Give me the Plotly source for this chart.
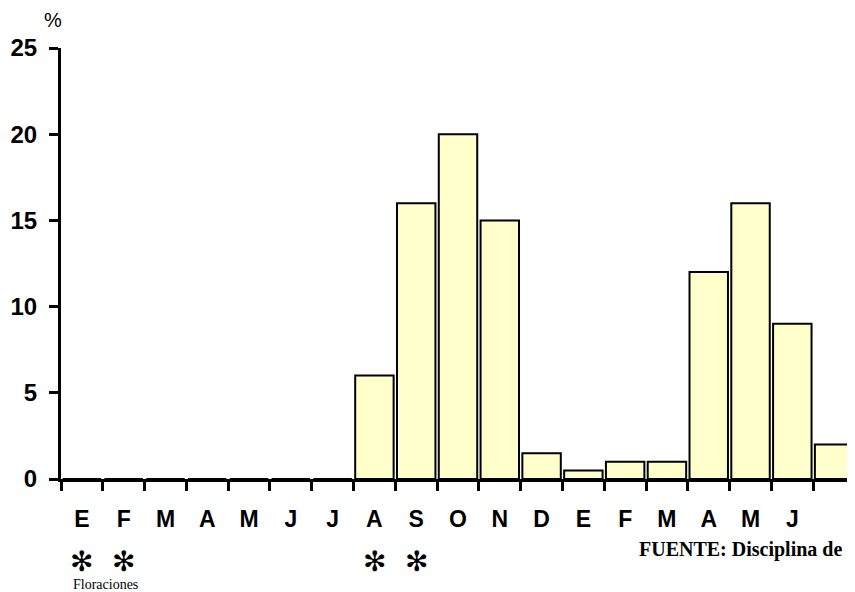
import plotly.graph_objects as go

month_labels = ["E", "F", "M", "A", "M", "J", "J", "A", "S", "O", "N", "D",
                "E", "F", "M", "A", "M", "J", ""]
values = [0, 0, 0, 0, 0, 0, 0, 6, 16, 20, 15, 1.5, 0.5, 1, 1, 12, 16, 9, 2]
y_ticks = [0, 5, 10, 15, 20, 25]
flower_months = [0, 1, 7, 8]

x_pos = list(range(len(values)))
boundaries = [i - 0.5 for i in range(len(values) + 1)]

# page body has an 8px default margin; figure sized to fill the visible window
fig = go.Figure()
fig.add_trace(go.Bar(
    x=x_pos, y=values,
    marker=dict(color="#FFFFCC", line=dict(color="black", width=2)),
    width=0.92,
    hoverinfo="skip",
))

fig.update_layout(
    width=847, height=584,
    margin=dict(l=53, r=0, t=40, b=113),
    paper_bgcolor="white", plot_bgcolor="white",
    showlegend=False,
    font=dict(family="Liberation Sans, Arial, sans-serif", color="black"),
    xaxis=dict(
        range=[-0.5, len(values) - 0.5],
        tickmode="array", tickvals=x_pos, ticktext=month_labels,
        ticks="", showgrid=False, zeroline=False,
        showline=True, linecolor="black", linewidth=3,
        tickfont=dict(size=23, weight="bold", color="black"),
        ticklabelstandoff=17,
        minor=dict(tickmode="array", tickvals=boundaries, ticks="outside",
                   ticklen=9, tickwidth=3, tickcolor="black", showgrid=False),
        fixedrange=True,
    ),
    yaxis=dict(
        range=[0, 25],
        tickmode="array", tickvals=y_ticks,
        ticks="outside", ticklen=9, tickwidth=3, tickcolor="black",
        showgrid=False, zeroline=False,
        showline=True, linecolor="black", linewidth=3,
        tickfont=dict(size=24, weight="bold", color="black"),
        ticklabelstandoff=7,
        fixedrange=True,
    ),
)

annotations = [
    dict(text="%", xref="paper", yref="paper", x=0, y=1, xanchor="center",
         yanchor="middle", xshift=-8, yshift=28, showarrow=False,
         font=dict(size=20, family="Liberation Sans, Arial, sans-serif")),
    dict(text="Floraciones", xref="x", yref="paper", x=-0.5, y=0,
         xanchor="left", yanchor="middle", xshift=10, yshift=-105,
         showarrow=False,
         font=dict(size=14, family="Liberation Serif, Times New Roman, serif")),
    dict(text="<b>FUENTE: Disciplina de</b>", xref="paper", yref="paper",
         x=(637 - 61) / 794, y=0, xanchor="left", yanchor="middle",
         yshift=-70, showarrow=False,
         font=dict(size=20, family="Liberation Serif, Times New Roman, serif")),
]
for m in flower_months:
    annotations.append(dict(
        text="✻", xref="x", yref="paper", x=m, y=0, xanchor="center",
        yanchor="middle", yshift=-82, showarrow=False, borderpad=0,
        font=dict(size=28, family="DejaVu Sans, sans-serif")))
fig.update_layout(annotations=annotations)

fig.write_html("out.html")
